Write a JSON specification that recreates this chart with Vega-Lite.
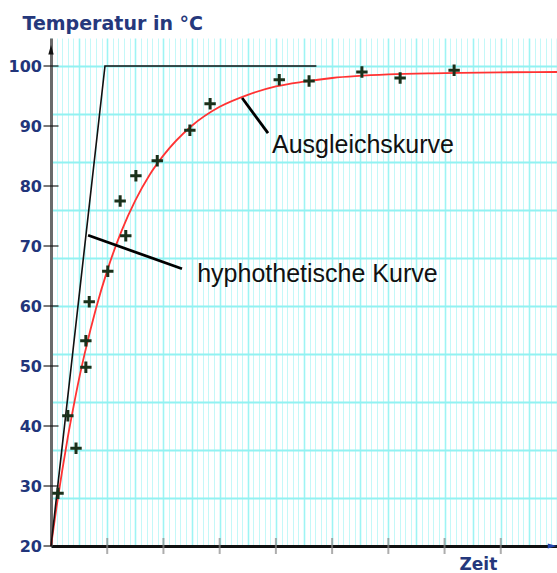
{
  "$schema": "https://vega.github.io/schema/vega-lite/v6.json",
  "autosize": {"type": "none"},
  "padding": {"left": 51, "top": 38, "right": 0, "bottom": 27},
  "width": 506,
  "height": 508,
  "background": "white",
  "config": {"view": {"stroke": null}},
  "datasets": {
    "curve": [
      {"t": 0, "T": 20}, {"t": 0.1, "T": 26.6}, {"t": 0.2, "T": 32.6}, {"t": 0.3, "T": 38.2},
      {"t": 0.4, "T": 43.2}, {"t": 0.5, "T": 47.9}, {"t": 0.6, "T": 52.1}, {"t": 0.8, "T": 59.6},
      {"t": 1.0, "T": 65.9}, {"t": 1.25, "T": 72.4}, {"t": 1.5, "T": 77.6}, {"t": 1.75, "T": 81.8},
      {"t": 2.0, "T": 85.1}, {"t": 2.5, "T": 90.0}, {"t": 3.0, "T": 93.2}, {"t": 3.5, "T": 95.2},
      {"t": 4.0, "T": 96.6}, {"t": 4.5, "T": 97.4}, {"t": 5.0, "T": 98.0}, {"t": 6.0, "T": 98.6},
      {"t": 7.0, "T": 98.8}, {"t": 8.0, "T": 98.95}, {"t": 9.0, "T": 99.0}
    ],
    "hypo": [{"t": 0, "T": 20}, {"t": 0.96, "T": 100}, {"t": 4.72, "T": 100}],
    "points": [
      {"t": 0.125, "T": 28.8}, {"t": 0.3, "T": 41.7}, {"t": 0.445, "T": 36.3},
      {"t": 0.62, "T": 49.8}, {"t": 0.62, "T": 54.2}, {"t": 0.68, "T": 60.7},
      {"t": 1.01, "T": 65.8}, {"t": 1.33, "T": 71.7}, {"t": 1.23, "T": 77.5},
      {"t": 1.51, "T": 81.7}, {"t": 1.89, "T": 84.2}, {"t": 2.47, "T": 89.3},
      {"t": 2.83, "T": 93.7}, {"t": 4.06, "T": 97.7}, {"t": 4.59, "T": 97.5},
      {"t": 5.53, "T": 99.0}, {"t": 6.21, "T": 98.0}, {"t": 7.17, "T": 99.3}
    ],
    "pointers": [
      {"t": 3.4, "T": 94.67, "t2": 3.86, "T2": 88.8},
      {"t": 0.66, "T": 71.8, "t2": 2.33, "T2": 66.2}
    ],
    "labels": [
      {"t": 3.93, "T": 85.5, "text": "Ausgleichskurve"},
      {"t": 2.6, "T": 64.0, "text": "hyphothetische Kurve"}
    ],
    "yticks": [{"T": 20}, {"T": 30}, {"T": 40}, {"T": 50}, {"T": 60}, {"T": 70}, {"T": 80}, {"T": 90}, {"T": 100}],
    "xticks": [{"t": 1}, {"t": 2}, {"t": 3}, {"t": 4}, {"t": 5}, {"t": 6}, {"t": 7}, {"t": 8}]
  },
  "layer": [
    {
      "data": {"name": "curve"},
      "mark": {"type": "line", "color": "#ff3333", "strokeWidth": 1.8, "interpolate": "monotone"},
      "encoding": {
        "x": {
          "field": "t", "type": "quantitative",
          "scale": {"domain": [0, 9], "nice": false, "zero": false},
          "axis": {
            "tickCount": 90, "labels": false, "ticks": false,
            "domain": true, "domainColor": "#111111", "domainWidth": 3,
            "grid": true,
            "gridColor": {"condition": {"test": "round(datum.value*10) % 5 == 0", "value": "#9ef4f4"}, "value": "#c4f8f8"},
            "gridWidth": {"condition": {"test": "round(datum.value*10) % 5 == 0", "value": 1.6}, "value": 1},
            "gridOpacity": 1,
            "title": "Zeit", "titleX": 408, "titleY": 23, "titleAlign": "left", "titleBaseline": "alphabetic",
            "titleFont": "DejaVu Sans", "titleFontWeight": "bold", "titleFontSize": 17, "titleColor": "#25387c"
          }
        },
        "y": {
          "field": "T", "type": "quantitative",
          "scale": {"domain": [20, 104.667], "nice": false, "zero": false},
          "axis": {
            "values": [20, 22, 24, 26, 28, 30, 32, 34, 36, 38, 40, 42, 44, 46, 48, 50, 52, 54, 56, 58, 60, 62, 64, 66, 68, 70, 72, 74, 76, 78, 80, 82, 84, 86, 88, 90, 92, 94, 96, 98, 100, 102, 104],
            "labels": false,
            "ticks": false,
            "domain": true, "domainColor": "#6a6a6a", "domainWidth": 3,
            "grid": true, "gridColor": "#92f2f2", "gridWidth": 2, "gridOpacity": 1,
            "title": "Temperatur in °C", "titleAngle": 0, "titleX": -29, "titleY": -9,
            "titleAlign": "left", "titleBaseline": "alphabetic",
            "titleFont": "DejaVu Sans", "titleFontWeight": "bold", "titleFontSize": 19, "titleColor": "#25387c"
          }
        }
      }
    },
    {
      "data": {"name": "hypo"},
      "mark": {"type": "line", "color": "#111111", "strokeWidth": 1.6},
      "encoding": {
        "x": {"field": "t", "type": "quantitative"},
        "y": {"field": "T", "type": "quantitative"}
      }
    },
    {
      "data": {"name": "pointers"},
      "mark": {"type": "rule", "color": "#000000", "strokeWidth": 2.8},
      "encoding": {
        "x": {"field": "t", "type": "quantitative"},
        "y": {"field": "T", "type": "quantitative"},
        "x2": {"field": "t2"},
        "y2": {"field": "T2"}
      }
    },
    {
      "data": {"name": "labels"},
      "mark": {"type": "text", "font": "Liberation Sans", "fontSize": 25, "color": "#111111", "align": "left", "baseline": "alphabetic"},
      "encoding": {
        "x": {"field": "t", "type": "quantitative"},
        "y": {"field": "T", "type": "quantitative"},
        "text": {"field": "text"}
      }
    },
    {
      "data": {"name": "points"},
      "mark": {"type": "point", "shape": "M -1 0 L 1 0 M 0 -1 L 0 1", "filled": false, "stroke": "#1a301a", "strokeWidth": 3, "size": 130, "opacity": 1},
      "encoding": {
        "x": {"field": "t", "type": "quantitative"},
        "y": {"field": "T", "type": "quantitative"}
      }
    },
    {
      "data": {"name": "yticks"},
      "mark": {"type": "tick", "orient": "horizontal", "color": "#111111", "size": 15, "thickness": 1.6},
      "encoding": {
        "x": {"datum": 0, "type": "quantitative"},
        "y": {"field": "T", "type": "quantitative"}
      }
    },
    {
      "data": {"name": "yticks"},
      "mark": {"type": "text", "align": "right", "baseline": "middle", "dx": -9, "dy": 1, "font": "DejaVu Sans", "fontWeight": "bold", "fontSize": 16, "color": "#22357a"},
      "encoding": {
        "x": {"datum": 0, "type": "quantitative"},
        "y": {"field": "T", "type": "quantitative"},
        "text": {"field": "T", "type": "quantitative"}
      }
    },
    {
      "data": {"name": "xticks"},
      "mark": {"type": "tick", "orient": "vertical", "color": "#8a8a8a", "size": 16, "thickness": 2},
      "encoding": {
        "x": {"field": "t", "type": "quantitative"},
        "y": {"datum": 20, "type": "quantitative"}
      }
    },
    {
      "data": {"values": [{"t": 0, "T": 102.5}]},
      "mark": {"type": "point", "shape": "M 0 -1 L 0.45 0.6 L -0.45 0.6 Z", "filled": true, "color": "#111111", "size": 144, "opacity": 1},
      "encoding": {
        "x": {"field": "t", "type": "quantitative"},
        "y": {"field": "T", "type": "quantitative"}
      }
    },
    {
      "data": {"values": [{"t": 8.9, "T": 20}]},
      "mark": {"type": "point", "shape": "M 1 0 L -0.6 0.4 L -0.6 -0.4 Z", "filled": true, "color": "#2244aa", "size": 144, "opacity": 1},
      "encoding": {
        "x": {"field": "t", "type": "quantitative"},
        "y": {"field": "T", "type": "quantitative"}
      }
    }
  ]
}
